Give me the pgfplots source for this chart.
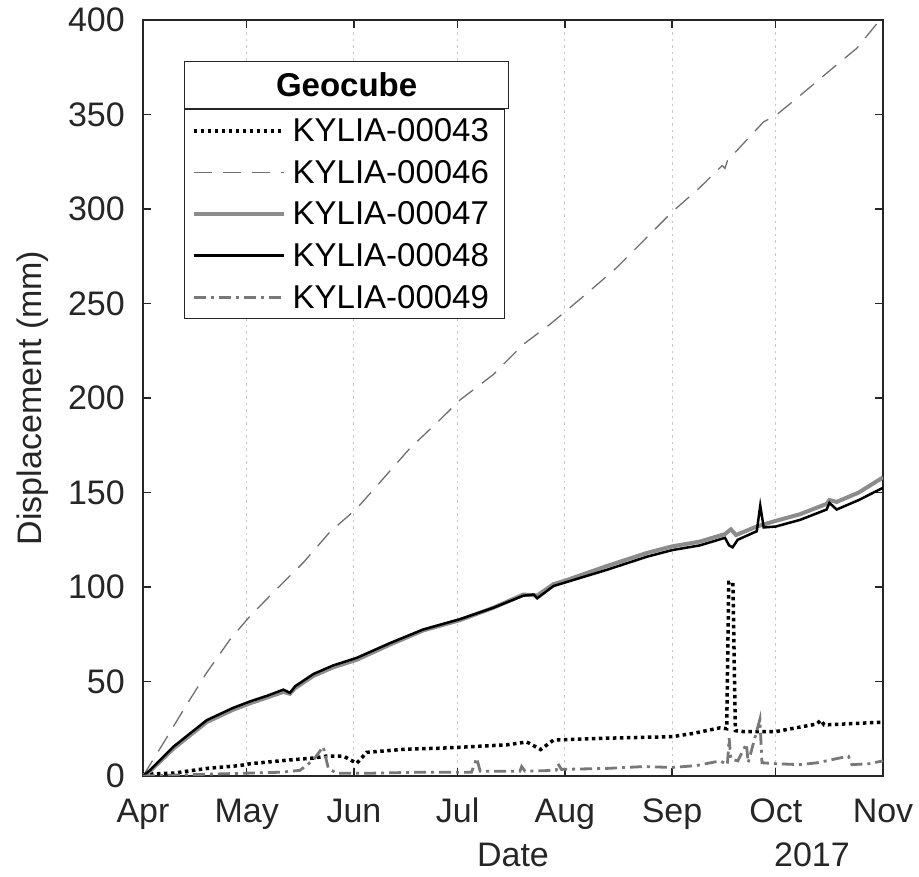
\documentclass[border=0pt]{standalone}
\usepackage{fontspec}
\setmainfont{Liberation Sans}
\usepackage{pgfplots}
\pgfplotsset{compat=1.18}
\definecolor{axgray}{HTML}{262626}
\definecolor{gridgray}{HTML}{C8C8C8}
\definecolor{g47}{HTML}{8C8C8C}
\definecolor{g46}{HTML}{707070}
\definecolor{g49}{HTML}{787878}
\begin{document}
\begin{tikzpicture}
\begin{axis}[
  scale only axis, width=740pt, height=756pt,
  xmin=0, xmax=214, ymin=0, ymax=400,
  xtick={0,30,61,91,122,153,183,214},
  xticklabels={Apr,May,Jun,Jul,Aug,Sep,Oct,Nov},
  ytick={0,50,100,150,200,250,300,350,400},
  /pgf/number format/assume math mode=true,
  tick align=inside, major tick length=8pt,
  axis line style={draw=axgray, line width=1.3pt},
  every tick/.style={draw=axgray, line width=1.3pt},
  xmajorgrids,
  major grid style={draw=gridgray, line width=1pt, dash pattern=on 2.5pt off 4pt},
  tick label style={font=\fontsize{34}{40}\selectfont, text=axgray},
  xticklabel style={anchor=base, yshift=-47pt},
  yticklabel style={anchor=east, inner sep=0pt, xshift=-18pt},
  label style={font=\fontsize{34}{40}\selectfont, text=axgray},
  xlabel={Date},
  xlabel style={at={(axis description cs:0.5,-0.104)}, anchor=center},
  ylabel={Displacement (mm)},
  ylabel style={at={(axis description cs:-0.149,0.5)}, anchor=center},
  clip mode=individual,
  legend image code/.code={\draw[#1] (0pt,0pt) -- (90pt,0pt);},
  legend cell align=left,
  legend style={at={(rel axis cs:0.0554,0.882)}, anchor=north west,
    draw=axgray, line width=1.3pt, fill=white,
    inner xsep=7pt, inner ysep=5pt, row sep=9pt, column sep=3pt,
    nodes={inner sep=4pt, font=\fontsize{33}{40}\selectfont, text=black}},
]
% KYLIA-00043 dotted
\addplot[black, line width=3.5pt, dash pattern=on 3.5pt off 3.5pt] coordinates {
(0,1) (8.8,1.5) (18.4,4) (28,5.5) (31,6.5) (42.5,8.5) (49.3,9.5) (53,10.5) (58,10.5)
(61.8,6.7) (64.7,12.5) (76,14.2) (85.9,14.7) (91.7,15.2) (105.2,16.5) (111,18) (115,14)
(118.7,19) (134,20) (153,20.8) (159,22.5) (166.9,25.5) (168.8,25) (169.4,102.5) (170.6,102.5)
(171.3,24) (173.6,23.5) (183,23.5) (194.8,27.5) (196,29.5) (197,27) (214,28.5)};
\addlegendentry{\makebox[201pt][l]{KYLIA-00043}}
% KYLIA-00046 dashed
\addplot[g46, line width=1.3pt, dash pattern=on 18pt off 11pt] coordinates {
(0,0) (5.9,17.4) (11.7,35) (18.4,54.6) (25.2,72.3) (31,84.7) (38.7,99) (46.4,113) (54,129)
(61.8,141.5) (69.5,157.4) (77.2,173.4) (85.9,188.5) (91.7,199) (101.3,212.4) (110,228.4)
(117.7,239) (122.3,246) (129.3,256.8) (137,269) (145.7,285) (153,298.4) (161,311.3)
(167.5,323) (168.3,321.5) (169,325.5) (179.4,346) (183.2,349.8) (190,360) (199.5,374.6)
(206.4,385) (212.2,398) (214,401)};
\addlegendentry{KYLIA-00046}
% KYLIA-00047 gray thick
\addplot[g47, line width=4pt] coordinates {
(0,0) (2,2.5) (8.8,14.5) (18.4,28.5) (26,35) (31,38.5) (40.6,44.5) (42.5,43.5) (44,46.5)
(49.3,53) (55,57.5) (61.8,61.5) (71.4,69.5) (81,77) (91.7,82.5) (101.3,89) (110,96)
(114,95.5) (118.7,101.5) (122.3,103.5) (134,111) (145.7,118) (153,121.5) (161,124)
(168.3,128) (170,130.5) (171.5,127.5) (177.5,132) (183,135) (190,138.5) (197.7,144)
(198.5,146) (200.6,145) (207,150) (214,158)};
\addlegendentry{KYLIA-00047}
% KYLIA-00048 black solid
\addplot[black, line width=2.5pt] coordinates {
(0,0) (2,3) (8.8,15.5) (18.4,29.5) (26,36) (31,39.5) (36,42.5) (40.6,45.7) (42.5,44)
(44,47.5) (49.3,54) (55,58.5) (61.8,62.5) (71.4,70.3) (81,77.5) (91.7,83) (101.3,89)
(110,95.4) (113,96) (114,94) (118.7,100.5) (122.3,102.5) (134,109) (145.7,116) (153,119.5)
(161,122) (168.3,126) (169.5,122) (170.5,121) (172,125) (177.5,129.5) (178.5,143)
(179.5,131.5) (183,132) (190,135.5) (197.7,141) (198.5,144.5) (200.6,141) (207,146) (214,152.5)};
\addlegendentry{KYLIA-00048}
% KYLIA-00049 dash-dot gray
\addplot[g49, line width=2.8pt, dash pattern=on 12pt off 5pt on 3pt off 5pt] coordinates {
(0,0) (10,0.5) (20,1) (30,1.5) (40,2) (45.4,3) (49.3,8.5) (52.1,15.5) (53.6,4) (56,1.5)
(66.6,1.5) (80,2) (95,2) (96.5,9.5) (97.5,2.5) (109,2.5) (109.5,5) (110.5,2.5) (119.5,3)
(120,6.5) (121,3.5) (134,4) (145,5) (153,4.5) (160,5.5) (166.9,8) (169,6) (169.5,20)
(170,9) (172,8) (174.5,17) (175,7) (178.4,30) (179,7) (183,6.5) (190,6) (195,7) (204,10.5)
(205,6) (210,6.5) (214,8)};
\addlegendentry{KYLIA-00049}
\node[draw=axgray, line width=1.3pt, fill=white, anchor=south west,
  minimum width=324pt, minimum height=47pt, inner sep=0pt,
  font=\bfseries\fontsize{33}{40}\selectfont] at (rel axis cs:0.0554,0.882) {Geocube};
\node[font=\fontsize{34}{40}\selectfont, text=axgray] at (rel axis cs:0.904,-0.104) {2017};
\coordinate (O) at (rel axis cs:0,0);
\end{axis}
\pgfresetboundingbox
\path[use as bounding box] ([shift={(-143pt,-101pt)}]O) rectangle ([shift={(776pt,776pt)}]O);
\end{tikzpicture}
\end{document}
